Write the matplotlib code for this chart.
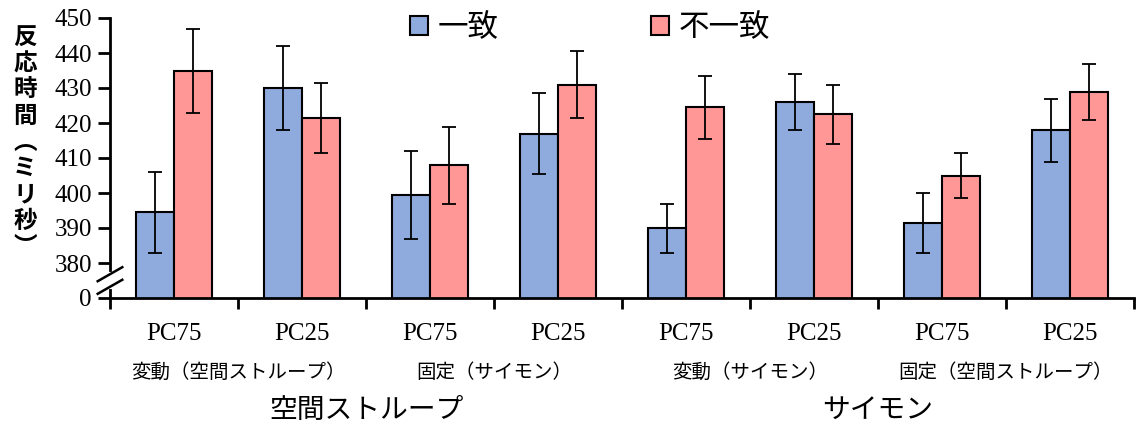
import numpy as np
import matplotlib.pyplot as plt
import matplotlib.transforms as mtransforms

plt.rcParams['font.family'] = ['Noto Sans CJK JP', 'DejaVu Sans']

conditions = ['PC75', 'PC25', 'PC75', 'PC25', 'PC75', 'PC25', 'PC75', 'PC25']
match = [394.5, 430.0, 399.5, 417.0, 390.0, 426.0, 391.5, 418.0]
match_err = [11.5, 12.0, 12.5, 11.5, 7.0, 8.0, 8.5, 9.0]
mismatch = [435.0, 421.5, 408.0, 431.0, 424.5, 422.5, 405.0, 429.0]
mismatch_err = [12.0, 10.0, 11.0, 9.5, 9.0, 8.5, 6.5, 8.0]
sub_labels = ['変動（空間ストループ）', '固定（サイモン）', '変動（サイモン）', '固定（空間ストループ）']
group_labels = ['空間ストループ', 'サイモン']
legend_labels = ['一致', '不一致']
yticks = [380, 390, 400, 410, 420, 430, 440, 450]

blue = '#8faadc'
red = '#ff9797'

fig = plt.figure(figsize=(11.41, 4.30), dpi=100)
ax = fig.add_axes([110/1141, 1-298/430, 1024/1141, 280/430])

x = np.arange(len(conditions))
w = 0.3
ax.bar(x - w/2, match, w, color=blue, edgecolor='black', linewidth=1.5,
       yerr=match_err, capsize=5, error_kw=dict(elinewidth=1.3, capthick=1.3),
       label=legend_labels[0])
ax.bar(x + w/2, mismatch, w, color=red, edgecolor='black', linewidth=1.5,
       yerr=mismatch_err, capsize=5, error_kw=dict(elinewidth=1.3, capthick=1.3),
       label=legend_labels[1])

# broken axis: 0 shown at 370
ax.set_ylim(370, 450)
ax.set_yticks([370] + yticks)
ax.set_yticklabels(['0'] + [str(v) for v in yticks], family='Liberation Serif', fontsize=18)
ax.set_xlim(-0.5, 7.5)
ax.set_xticks(x)
ax.set_xticklabels(conditions, family='Liberation Serif', fontsize=18)
ax.set_xticks(np.arange(-0.5, 8.0, 1.0), minor=True)
ax.tick_params(axis='x', which='major', length=0, pad=18)
ax.tick_params(axis='x', which='minor', length=8, width=2, direction='out')
ax.tick_params(axis='y', length=9, width=2, direction='out', pad=4)
for s in ['top', 'right']:
    ax.spines[s].set_visible(False)
for s in ['left', 'bottom']:
    ax.spines[s].set_linewidth(2)

# break marks
kw = dict(transform=ax.transAxes, color='black', lw=1.8, clip_on=False)
ax.plot([0, 0], [0.04, 0.085], transform=ax.transAxes, color='white', lw=3, clip_on=False, zorder=5)
for yy in [0.04, 0.085]:
    ax.plot([-0.012, 0.012], [yy - 0.025, yy + 0.025], zorder=6, **kw)

tr = mtransforms.blended_transform_factory(ax.transData, fig.transFigure)
for i, lab in enumerate(sub_labels):
    ax.text(2*i + 0.5, 1 - 372/430, lab, transform=tr, ha='center', va='center', fontsize=14)
for i, lab in enumerate(group_labels):
    ax.text(4*i + 1.5, 1 - 410/430, lab, transform=tr, ha='center', va='center', fontsize=20)

fig.text(25/1141, 1 - 142/430, '\n'.join('反応時間︵ミリ秒︶'), ha='center', va='center',
         fontsize=17, fontweight='bold', linespacing=1.12)

fig.legend(loc='center', bbox_to_anchor=(590/1141, 1 - 28/430), ncol=2, frameon=False,
           fontsize=22, handlelength=0.6, handleheight=0.6, columnspacing=5, handletextpad=0.3)

fig.savefig('out.png', dpi=100)
